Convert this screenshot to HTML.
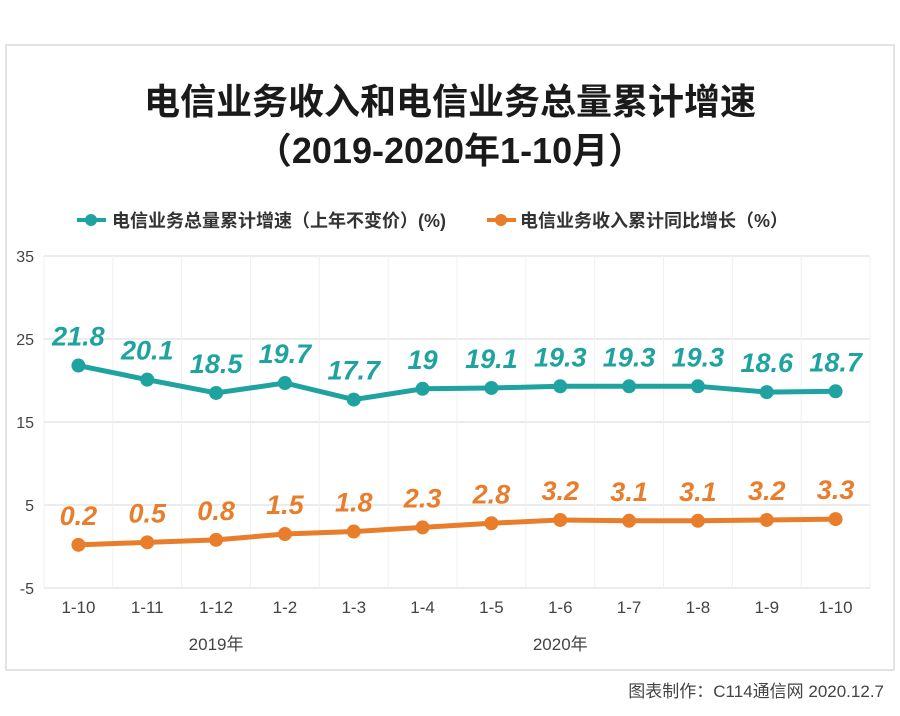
<!DOCTYPE html>
<html><head><meta charset="utf-8"><style>
body{margin:0;width:900px;height:716px;background:#fff;overflow:hidden;font-family:"Liberation Sans","Noto Sans CJK SC",sans-serif}
svg{display:block}
</style></head><body>
<svg id="c" width="900" height="716">
<rect x="6" y="45" width="888" height="625" fill="none" stroke="#e3e3e3" stroke-width="2"/>
<text x="450" y="114" text-anchor="middle" font-size="36" font-weight="bold" fill="#1a1a1a" font-family="'Liberation Sans','Noto Sans CJK SC',sans-serif">电信业务收入和电信业务总量累计增速</text>
<text x="450" y="163" text-anchor="middle" font-size="36" font-weight="bold" fill="#1a1a1a" font-family="'Liberation Sans','Noto Sans CJK SC',sans-serif">（2019-2020年1-10月）</text>
<g>
<g><line x1="77" y1="220" x2="106" y2="220" stroke="#1fa3a0" stroke-width="4"/><circle cx="91" cy="220" r="6" fill="#1fa3a0"/><text x="112" y="227" font-size="18" font-weight="bold" fill="#333">电信业务总量累计增速（上年不变价）(%)</text></g>
<g><line x1="487" y1="220" x2="516" y2="220" stroke="#e87d2c" stroke-width="4"/><circle cx="501" cy="220" r="6" fill="#e87d2c"/><text x="520" y="227" font-size="18" font-weight="bold" fill="#333">电信业务收入累计同比增长（%）</text></g>
</g>
<g id="grid"></g><g id="axes"></g><g id="marks"></g>
<text x="884" y="697" text-anchor="end" font-size="17" fill="#444">图表制作：C114通信网  2020.12.7</text>
</svg>
<script>
const categories=["1-10","1-11","1-12","1-2","1-3","1-4","1-5","1-6","1-7","1-8","1-9","1-10"];
const volumeGrowth=[21.8,20.1,18.5,19.7,17.7,19,19.1,19.3,19.3,19.3,18.6,18.7];
const revenueGrowth=[0.2,0.5,0.8,1.5,1.8,2.3,2.8,3.2,3.1,3.1,3.2,3.3];
const yTicks=[35,25,15,5,-5];
const yearLabels=["2019年","2020年"];
const yearSpans=[[0,4],[3,11]];
const NS="http://www.w3.org/2000/svg";
const L=44,R=870,yMax=35,yMin=-5,T=256,B=588;
const bw=(R-L)/categories.length;
const x=i=>L+bw*(i+0.5);
const y=v=>T+(yMax-v)/(yMax-yMin)*(B-T);
function mk(tag,attrs,parent,text){const e=document.createElementNS(NS,tag);for(const k in attrs)e.setAttribute(k,attrs[k]);if(text!==undefined)e.textContent=text;document.getElementById(parent).appendChild(e);return e;}
yTicks.forEach(t=>{
 const g=mk('line',{x1:L,x2:R,y1:y(t),y2:y(t),stroke:'#e6e6e6','stroke-width':1.5},'grid');
 
 
 const lb=mk('text',{x:34,y:y(t)+6,'text-anchor':'end','font-size':16,fill:'#444'},'axes',String(t));
 
 
});
for(let i=0;i<=categories.length;i++){
 const v=mk('line',{x1:L+bw*i,x2:L+bw*i,y1:T,y2:B,stroke:'#f0f0f0','stroke-width':1},'grid');
 
 
}
categories.forEach((c,i)=>{
 const t=mk('text',{x:x(i),y:613,'text-anchor':'middle','font-size':17,fill:'#444'},'axes',c);
 
 
});
yearLabels.forEach((yl,k)=>{
 const cx=(x(yearSpans[k][0])+x(yearSpans[k][1]))/2;
 const t=mk('text',{x:cx,y:650,'text-anchor':'middle','font-size':17,fill:'#444'},'axes',yl);
 
 
});
function series(vals,color,name,dy){
 const p=mk('polyline',{points:vals.map((v,i)=>x(i)+','+y(v)).join(' '),fill:'none',stroke:color,'stroke-width':5,'stroke-linejoin':'round'},'marks');
 
 
 vals.forEach((v,i)=>{
  const c=mk('circle',{cx:x(i),cy:y(v),r:7,fill:color},'marks');
  
  
  const t=mk('text',{x:x(i),y:y(v)+dy,'text-anchor':'middle','font-size':27,'font-weight':'bold','font-style':'italic',fill:color},'marks',String(v));
  
  
 });
}
series(volumeGrowth,'#1fa3a0','volume',-20);
series(revenueGrowth,'#e87d2c','revenue',-20);
</script>
</body></html>
